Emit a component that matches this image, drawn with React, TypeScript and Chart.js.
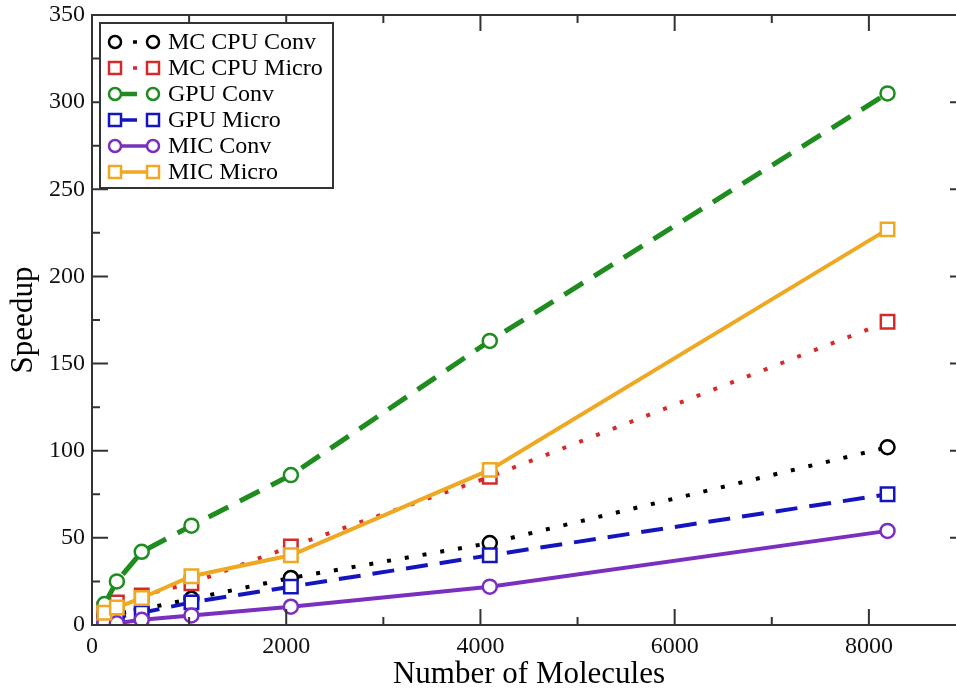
import React, { useEffect, useRef } from "react";
import { Chart, registerables } from "chart.js";

Chart.register(...registerables);

const molecules = [128, 256, 512, 1024, 2048, 4096, 8192];
const mcCpuConv = [5, 6.5, 9, 15, 27, 47, 102];
const mcCpuMicro = [9, 13, 17, 24, 45, 85, 174];
const gpuConv = [12, 25, 42, 57, 86, 163, 305];
const gpuMicro = [3, 4.5, 7, 13, 22, 40, 75];
const micConv = [1.5, 1, 3, 5.5, 10.5, 22, 54];
const micMicro = [7, 10, 15.5, 28, 40, 89, 227];

const seriesLabels = ["MC CPU Conv", "MC CPU Micro", "GPU Conv", "GPU Micro", "MIC Conv", "MIC Micro"];
const seriesValues = [mcCpuConv, mcCpuMicro, gpuConv, gpuMicro, micConv, micMicro];
const seriesColors = ["#000000", "#d42a2a", "#1e8c1e", "#1515c0", "#7b2fbf", "#eea822"];
const seriesShapes = ["circle", "rect", "circle", "rect", "circle", "rect"];
const seriesDashes: number[][] = [[4, 14], [4, 14], [22, 13], [22, 12], [], []];
const seriesWidths = [4, 4, 5, 4, 4, 4];

const xTickValues = [0, 2000, 4000, 6000, 8000];
const yTickValues = [0, 50, 100, 150, 200, 250, 300, 350];

const SERIF = "'Liberation Serif', 'Times New Roman', serif";
const FRAME = "#333333";

const framePlugin = {
  id: "frameTicks",
  afterDatasetsDraw(chart: any) {
    const { ctx, chartArea: a, scales } = chart;
    const xs = scales.x;
    const ys = scales.y;
    ctx.save();
    ctx.strokeStyle = FRAME;
    ctx.lineWidth = 2;
    ctx.setLineDash([]);
    ctx.strokeRect(a.left, a.top, a.right - a.left, a.bottom - a.top);
    const major = 16;
    const minor = 8;
    ctx.beginPath();
    for (let v = 0; v <= 9000; v += 1000) {
      const px = xs.getPixelForValue(v);
      const len = v % 2000 === 0 ? major : minor;
      ctx.moveTo(px, a.bottom);
      ctx.lineTo(px, a.bottom - len);
      ctx.moveTo(px, a.top);
      ctx.lineTo(px, a.top + len);
    }
    for (let v = 0; v <= 350; v += 25) {
      const py = ys.getPixelForValue(v);
      const len = v % 50 === 0 ? major : minor;
      ctx.moveTo(a.left, py);
      ctx.lineTo(a.left + len, py);
      ctx.moveTo(a.right, py);
      ctx.lineTo(a.right - len, py);
    }
    ctx.stroke();
    ctx.restore();
  },
  afterDraw(chart: any) {
    const { ctx } = chart;
    ctx.save();
    const bx = 100, by = 23, bw = 233, bh = 165;
    ctx.fillStyle = "#ffffff";
    ctx.fillRect(bx, by, bw, bh);
    ctx.strokeStyle = FRAME;
    ctx.lineWidth = 2;
    ctx.setLineDash([]);
    ctx.strokeRect(bx, by, bw, bh);
    const x1 = 115, x2 = 153;
    seriesLabels.forEach((label, i) => {
      const y = 42 + i * 26;
      ctx.save();
      ctx.strokeStyle = seriesColors[i];
      ctx.lineWidth = seriesWidths[i] - 0.5;
      ctx.lineCap = "butt";
      ctx.setLineDash(seriesDashes[i]);
      ctx.beginPath();
      ctx.moveTo(x1, y);
      ctx.lineTo(x2, y);
      ctx.stroke();
      ctx.setLineDash([]);
      ctx.lineWidth = 2.5;
      ctx.fillStyle = "#ffffff";
      [x1, x2].forEach((mx) => {
        ctx.beginPath();
        if (seriesShapes[i] === "circle") {
          ctx.arc(mx, y, 6, 0, Math.PI * 2);
        } else {
          ctx.rect(mx - 6, y - 6, 12, 12);
        }
        ctx.fill();
        ctx.stroke();
      });
      ctx.restore();
      ctx.fillStyle = "#000000";
      ctx.font = `24px ${SERIF}`;
      ctx.textAlign = "left";
      ctx.textBaseline = "middle";
      ctx.fillText(label, 168, y + 1);
    });
    ctx.restore();
  },
};

export default function App() {
  const ref = useRef<HTMLCanvasElement | null>(null);
  useEffect(() => {
    document.body.style.margin = "0";
    document.body.style.overflow = "hidden";
    document.documentElement.style.overflow = "hidden";
    if (!ref.current) return;
    const datasets = seriesLabels.map((label, i) => ({
      label,
      data: molecules.map((m, j) => ({ x: m, y: seriesValues[i][j] })),
      borderColor: seriesColors[i],
      backgroundColor: seriesColors[i],
      borderWidth: seriesWidths[i],
      borderDash: seriesDashes[i],
      borderCapStyle: "butt",
      pointStyle: seriesShapes[i],
      pointRadius: seriesShapes[i] === "circle" ? 7 : 9.5,
      pointBorderWidth: 2.5,
      pointBorderColor: seriesColors[i],
      pointBackgroundColor: "#ffffff",
      tension: 0,
      fill: false,
      order: seriesLabels.length - i,
    }));
    const chart = new Chart(ref.current, {
      type: "line",
      data: { datasets },
      options: {
        animation: false,
        responsive: false,
        layout: { padding: { left: 0, right: 14, top: 15, bottom: 0 } },
        plugins: { legend: { display: false }, tooltip: { enabled: false } },
        scales: {
          x: {
            type: "linear",
            min: 0,
            max: 9000,
            grid: { display: false, drawTicks: false },
            border: { display: false },
            afterBuildTicks: (s: any) => {
              s.ticks = xTickValues.map((v) => ({ value: v }));
            },
            afterFit: (s: any) => {
              s.height = 67;
            },
            ticks: {
              font: { family: SERIF, size: 24 },
              color: "#111111",
              padding: 7,
              maxRotation: 0,
              callback: (v: any) => String(v),
            },
            title: {
              display: true,
              text: "Number of Molecules",
              font: { family: SERIF, size: 31, lineHeight: 1 },
              color: "#000000",
              padding: { top: 0, bottom: 2 },
            },
          },
          y: {
            type: "linear",
            min: 0,
            max: 350,
            grid: { display: false, drawTicks: false },
            border: { display: false },
            afterBuildTicks: (s: any) => {
              s.ticks = yTickValues.map((v) => ({ value: v }));
            },
            afterFit: (s: any) => {
              s.width = 92;
              s.paddingTop = 0;
              s.paddingBottom = 0;
            },
            ticks: {
              font: { family: SERIF, size: 24, lineHeight: 0.8 },
              color: "#111111",
              padding: 7,
            },
            title: {
              display: true,
              text: "Speedup",
              font: { family: SERIF, size: 31, lineHeight: 1 },
              color: "#000000",
              padding: { top: 8, bottom: 0 },
            },
          },
        },
      },
      plugins: [framePlugin],
    } as any);
    return () => chart.destroy();
  }, []);
  return (
    <div style={{ width: 980, height: 692, overflow: "hidden", background: "#ffffff" }}>
      <canvas ref={ref} width={980} height={692} style={{ display: "block", width: 980, height: 692 }} />
    </div>
  );
}
